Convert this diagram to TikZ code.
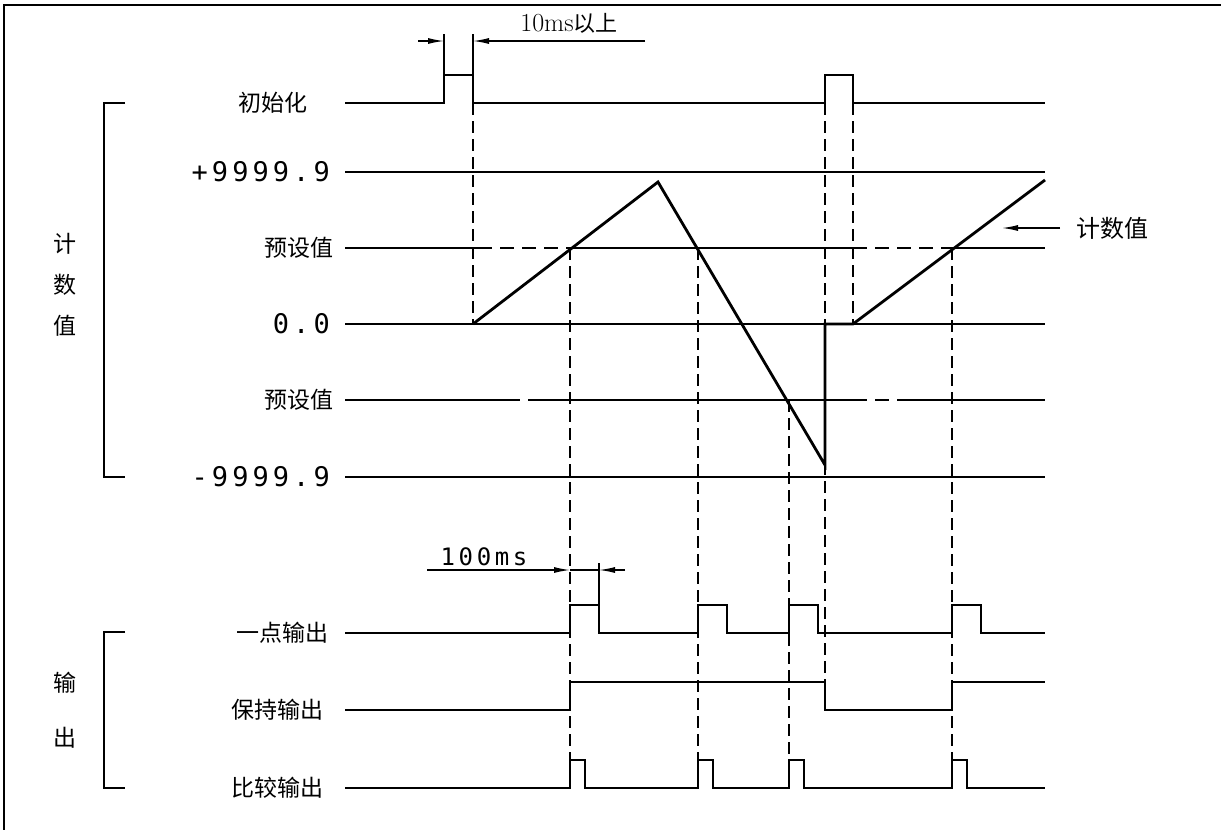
\documentclass[tikz,border=0pt]{standalone}
\usepackage{fontspec}
\newfontfamily\cjk{Noto Sans CJK SC}
\newfontfamily\numfont{DejaVu Sans Mono}[LetterSpace=15]
\usetikzlibrary{arrows.meta, positioning}

\tikzset{
  sig/.style={line width=2.8pt, line join=miter},
  refline/.style={line width=2.2pt},
  guide/.style={line width=1.6pt, dash pattern=on 12pt off 6pt},
  lab/.style={font={\cjk\fontsize{23}{23}\selectfont}, anchor=east, inner sep=0pt},
  numlab/.style={font={\numfont\fontsize{27}{27}\selectfont}, anchor=east, inner sep=0pt},
  dimtip/.style={line width=1.3pt, -{Latex[length=16pt,width=6pt]}},
  dimline/.style={line width=1.1pt},
}

\begin{document}
\begin{tikzpicture}[x=1pt, y=-1pt]
    \useasboundingbox (0,0) rectangle (1221,830);
    % 1. Khung
    \draw[line width=2.8pt] (4,830) -- (4,5) -- (1221,5);

    % 2. Nhãn tín hiệu
    \node[lab] (init) at (308,103) {初始化};
    \node[numlab] (pmax) at (330,172) {+9999.9};
    \node[lab] (preA) at (334,248) {预设值};
    \node[numlab] (zero) at (330,324) {0.0};
    \node[lab] (preB) at (334,400) {预设值};
    \node[numlab] (pmin) at (330,477) {-9999.9};
    \node[lab] (one) at (329,633) {一点输出};
    \node[lab] (hold) at (324,710) {保持输出};
    \node[lab] (cmp) at (324,788) {比较输出};

    % 3. Ngoặc bên trái
    \draw[line width=1.3pt] (125,103) -- (104,103) -- (104,477) -- (125,477);
    \draw[line width=1.3pt] (125,632) -- (104,632) -- (104,788) -- (125,788);
    \node[font={\cjk\fontsize{23}{41}\selectfont}, align=center] (cnt) at (65,285) {计\\数\\值};
    \node[font={\cjk\fontsize{23}{55}\selectfont}, align=center] (outp) at (65,710) {输\\出};

    % 4. Đường mức
    \foreach \y in {172,324,477} {
        \draw[refline] (345,\y) -- (1045,\y);
    }
    \draw[refline] (345,248) -- (478,248);
    \draw[refline, dash pattern=on 14pt off 8pt] (478,248) -- (572,248);
    \draw[refline] (572,248) -- (853,248);
    \draw[refline, dash pattern=on 14pt off 8pt] (853,248) -- (952,248);
    \draw[refline] (952,248) -- (1045,248);
    \draw[refline] (345,400) -- (506,400);
    \draw[refline, dash pattern=on 14pt off 8pt] (506,400) -- (536,400);
    \draw[refline] (536,400) -- (853,400);
    \draw[refline, dash pattern=on 14pt off 8pt] (853,400) -- (905,400);
    \draw[refline] (905,400) -- (1045,400);

    % 5. Đường gióng
    \draw[guide] (473,103) -- (473,324);
    \draw[guide] (825,103) -- (825,682);
    \draw[guide] (853,103) -- (853,324);
    \foreach \x in {570,698,952} {
        \draw[guide] (\x,248) -- (\x,788);
    }
    \draw[guide] (789,400) -- (789,788);

    % 6. Tín hiệu
    \draw[sig] (345,103) -- (444,103) -- (444,75) -- (473,75) -- (473,103)
        -- (825,103) -- (825,75) -- (853,75) -- (853,103) -- (1045,103);
    \draw[sig] (473,324) -- (658,182) -- (825,465) -- (825,324) -- (853,324) -- (1045,180);
    \draw[sig] (345,633) -- (570,633) -- (570,605) -- (599,605) -- (599,633)
        -- (698,633) -- (698,605) -- (727,605) -- (727,633)
        -- (789,633) -- (789,605) -- (818,605) -- (818,633)
        -- (952,633) -- (952,605) -- (981,605) -- (981,633) -- (1045,633);
    \draw[sig] (345,710) -- (570,710) -- (570,682) -- (825,682) -- (825,710)
        -- (952,710) -- (952,682) -- (1045,682);
    \draw[sig] (345,788) -- (570,788) -- (570,760) -- (585,760) -- (585,788)
        -- (698,788) -- (698,760) -- (713,760) -- (713,788)
        -- (789,788) -- (789,760) -- (804,760) -- (804,788)
        -- (952,788) -- (952,760) -- (967,760) -- (967,788) -- (1045,788);

    % 7. Kích thước
    \draw[dimline] (444,75) -- (444,34);
    \draw[dimline] (473,75) -- (473,34);
    \draw[dimtip] (418,41) -- (444,41);
    \draw[dimtip] (645,41) -- (473,41);
    \node[inner sep=0pt] (t10) at (569,23) {\fontsize{26}{26}\selectfont 10ms\cjk\fontsize{22}{22}\selectfont 以上};

    \draw[dimline] (599,605) -- (599,563);
    \draw[dimline] (570,570) -- (599,570);
    \draw[dimtip] (427,570) -- (570,570);
    \draw[dimtip] (625,570) -- (599,570);
    \node[font={\numfont\fontsize{24}{24}\selectfont}, inner sep=0pt] (t100) at (484,557) {100ms};

    \node[font={\cjk\fontsize{24}{24}\selectfont}, anchor=west, inner sep=0pt] (cntlab) at (1076,228) {计数值};
    \draw[dimtip] ([xshift=-16pt]cntlab.west) -- (1002,228);
\end{tikzpicture}
\end{document}
